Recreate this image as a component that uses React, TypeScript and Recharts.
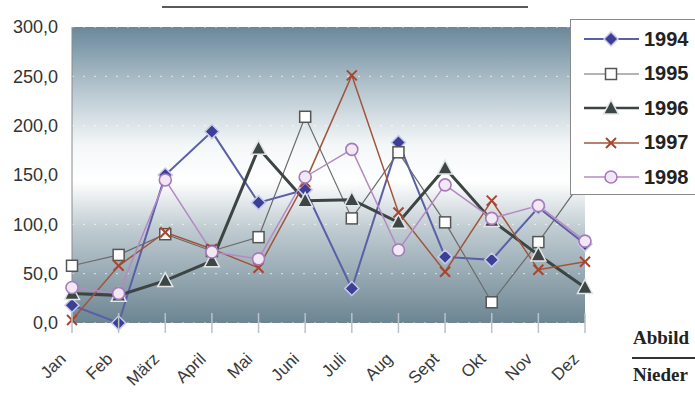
import { CartesianGrid, Line, LineChart, XAxis, YAxis } from 'recharts';

const months = ['Jan', 'Feb', 'März', 'April', 'Mai', 'Juni', 'Juli', 'Aug', 'Sept', 'Okt', 'Nov', 'Dez'];
const s1994 = [18, 0, 150, 194, 122, 135, 35, 183, 67, 64, 117, 80];
const s1995 = [58, 69, 90, 73, 87, 209, 106, 173, 102, 21, 82, 148];
const s1996 = [30, 28, 43, 63, 177, 124, 125, 102, 157, 104, 69, 36];
const s1997 = [3, 58, 92, 75, 56, 143, 251, 112, 52, 124, 54, 62];
const s1998 = [36, 30, 145, 72, 65, 148, 176, 74, 140, 106, 119, 83];
const yTicks = [0, 50, 100, 150, 200, 250, 300];

const data = months.map((m, i) => ({
  month: m,
  y1994: s1994[i],
  y1995: s1995[i],
  y1996: s1996[i],
  y1997: s1997[i],
  y1998: s1998[i],
}));

const font = '"Liberation Sans", Arial, sans-serif';
const serif = '"Liberation Serif", "Times New Roman", serif';

// marker shapes, drawn around (cx, cy)
const Diamond = ({ cx, cy }: any) => (
  <path d={`M${cx},${cy - 7}L${cx + 7},${cy}L${cx},${cy + 7}L${cx - 7},${cy}Z`} fill="#3b3f98" stroke="#c8cae6" strokeWidth={1.5} />
);
const Square = ({ cx, cy }: any) => (
  <rect x={cx - 5.5} y={cy - 5.5} width={11} height={11} fill="#ffffff" stroke="#555" strokeWidth={1.5} />
);
const Triangle = ({ cx, cy }: any) => (
  <path d={`M${cx},${cy - 8}L${cx + 7.5},${cy + 6}L${cx - 7.5},${cy + 6}Z`} fill="#3d4646" stroke="#e4e6e6" strokeWidth={1.5} />
);
const Cross = ({ cx, cy }: any) => (
  <g stroke="#a8452f" strokeWidth={2}>
    <line x1={cx - 5} y1={cy - 5} x2={cx + 5} y2={cy + 5} />
    <line x1={cx - 5} y1={cy + 5} x2={cx + 5} y2={cy - 5} />
  </g>
);
const Circle = ({ cx, cy }: any) => (
  <circle cx={cx} cy={cy} r={6} fill="#f1e8f4" stroke="#a57abd" strokeWidth={1.6} />
);

const series = [
  { key: 'y1994', name: '1994', color: '#5a5fa8', width: 2, Dot: Diamond },
  { key: 'y1995', name: '1995', color: '#6b6b6b', width: 1.2, Dot: Square },
  { key: 'y1996', name: '1996', color: '#3c4444', width: 3, Dot: Triangle },
  { key: 'y1997', name: '1997', color: '#a0553a', width: 1.5, Dot: Cross },
  { key: 'y1998', name: '1998', color: '#b48ac4', width: 1.5, Dot: Circle },
];

const XTick = ({ x, y, payload }: any) => {
  const tx = x - 5;
  const ty = y + 37;
  return (
    <g>
      <line x1={x} x2={x} y1={y - 10} y2={y + 10} stroke="#b8c2c8" strokeWidth={1.5} />
      <text
        x={tx}
        y={ty}
        transform={`rotate(-45 ${tx} ${ty})`}
        textAnchor="end"
        fontSize={17}
        fontFamily={font}
        fill="#3a3a3a"
      >
        {payload.value}
      </text>
    </g>
  );
};

// legend drawn as an overlay so it does not take room from the plot
const LegendBox = () => (
  <div
    style={{
      position: 'absolute',
      left: 570,
      top: 19,
      width: 135,
      height: 176,
      background: '#fff',
      border: '1px solid #8a8a8a',
      boxSizing: 'border-box',
      paddingTop: 2,
    }}
  >
    {series.map((s) => {
      const Dot = s.Dot;
      return (
        <div key={s.key} style={{ height: 34.5, display: 'flex', alignItems: 'center' }}>
          <svg width={72} height={24}>
            <line x1={13} x2={68} y1={12} y2={12} stroke={s.color} strokeWidth={Math.min(s.width, 2.5)} />
            <Dot cx={40} cy={12} />
          </svg>
          <span style={{ fontFamily: font, fontWeight: 700, fontSize: 20, color: '#222', marginLeft: 1 }}>{s.name}</span>
        </div>
      );
    })}
  </div>
);

export default function App() {
  return (
    <div style={{ position: 'absolute', left: 0, top: 0, width: 695, height: 394, overflow: 'hidden', background: '#fff' }}>
      <div style={{ position: 'absolute', left: 162, top: 6, width: 366, height: 1.5, background: '#5a5a5a' }} />
      <LineChart width={695} height={394} data={data} margin={{ top: 27, right: 110, bottom: 0, left: 0 }}>
        <defs>
          <linearGradient id="plotBg" x1="0" y1="0" x2="0" y2="1">
            <stop offset="0%" stopColor="#6a889a" />
            <stop offset="20%" stopColor="#b2c3cd" />
            <stop offset="40%" stopColor="#f4f7f8" />
            <stop offset="52%" stopColor="#ffffff" />
            <stop offset="68%" stopColor="#c0ccd2" />
            <stop offset="100%" stopColor="#6c8592" />
          </linearGradient>
        </defs>
        <CartesianGrid
          vertical={false}
          fill="url(#plotBg)"
          stroke="#ffffff"
          strokeOpacity={0.7}
          strokeDasharray="2 9"
        />
        <XAxis
          dataKey="month"
          height={71}
          padding={{ left: 0, right: 0 }}
          axisLine={false}
          tickLine={false}
          tickSize={0}
          tickMargin={0}
          interval={0}
          tick={<XTick />}
        />
        <YAxis
          width={72}
          domain={[0, 300]}
          ticks={yTicks}
          axisLine={{ stroke: '#8a8a8a' }}
          tickLine={false}
          tickMargin={8}
          tick={{ fontSize: 18, fontFamily: font, fill: '#333' }}
          tickFormatter={(v: number) => v.toFixed(1).replace('.', ',')}
        />
        {series.map((s) => {
          const Dot = s.Dot;
          return (
            <Line
              key={s.key}
              dataKey={s.key}
              name={s.name}
              type="linear"
              stroke={s.color}
              strokeWidth={s.width}
              dot={(p: any) => <Dot key={`${s.key}-${p.index}`} cx={p.cx} cy={p.cy} />}
              activeDot={false}
              isAnimationActive={false}
            />
          );
        })}
      </LineChart>
      <LegendBox />
      <div style={{ position: 'absolute', left: 633, top: 327, fontFamily: serif, fontWeight: 700, fontSize: 19, color: '#222', whiteSpace: 'nowrap' }}>
        Abbild
      </div>
      <div style={{ position: 'absolute', left: 632, top: 357, width: 70, height: 1.5, background: '#333' }} />
      <div style={{ position: 'absolute', left: 633, top: 364, fontFamily: serif, fontWeight: 700, fontSize: 19, color: '#222', whiteSpace: 'nowrap' }}>
        Nieder
      </div>
    </div>
  );
}
